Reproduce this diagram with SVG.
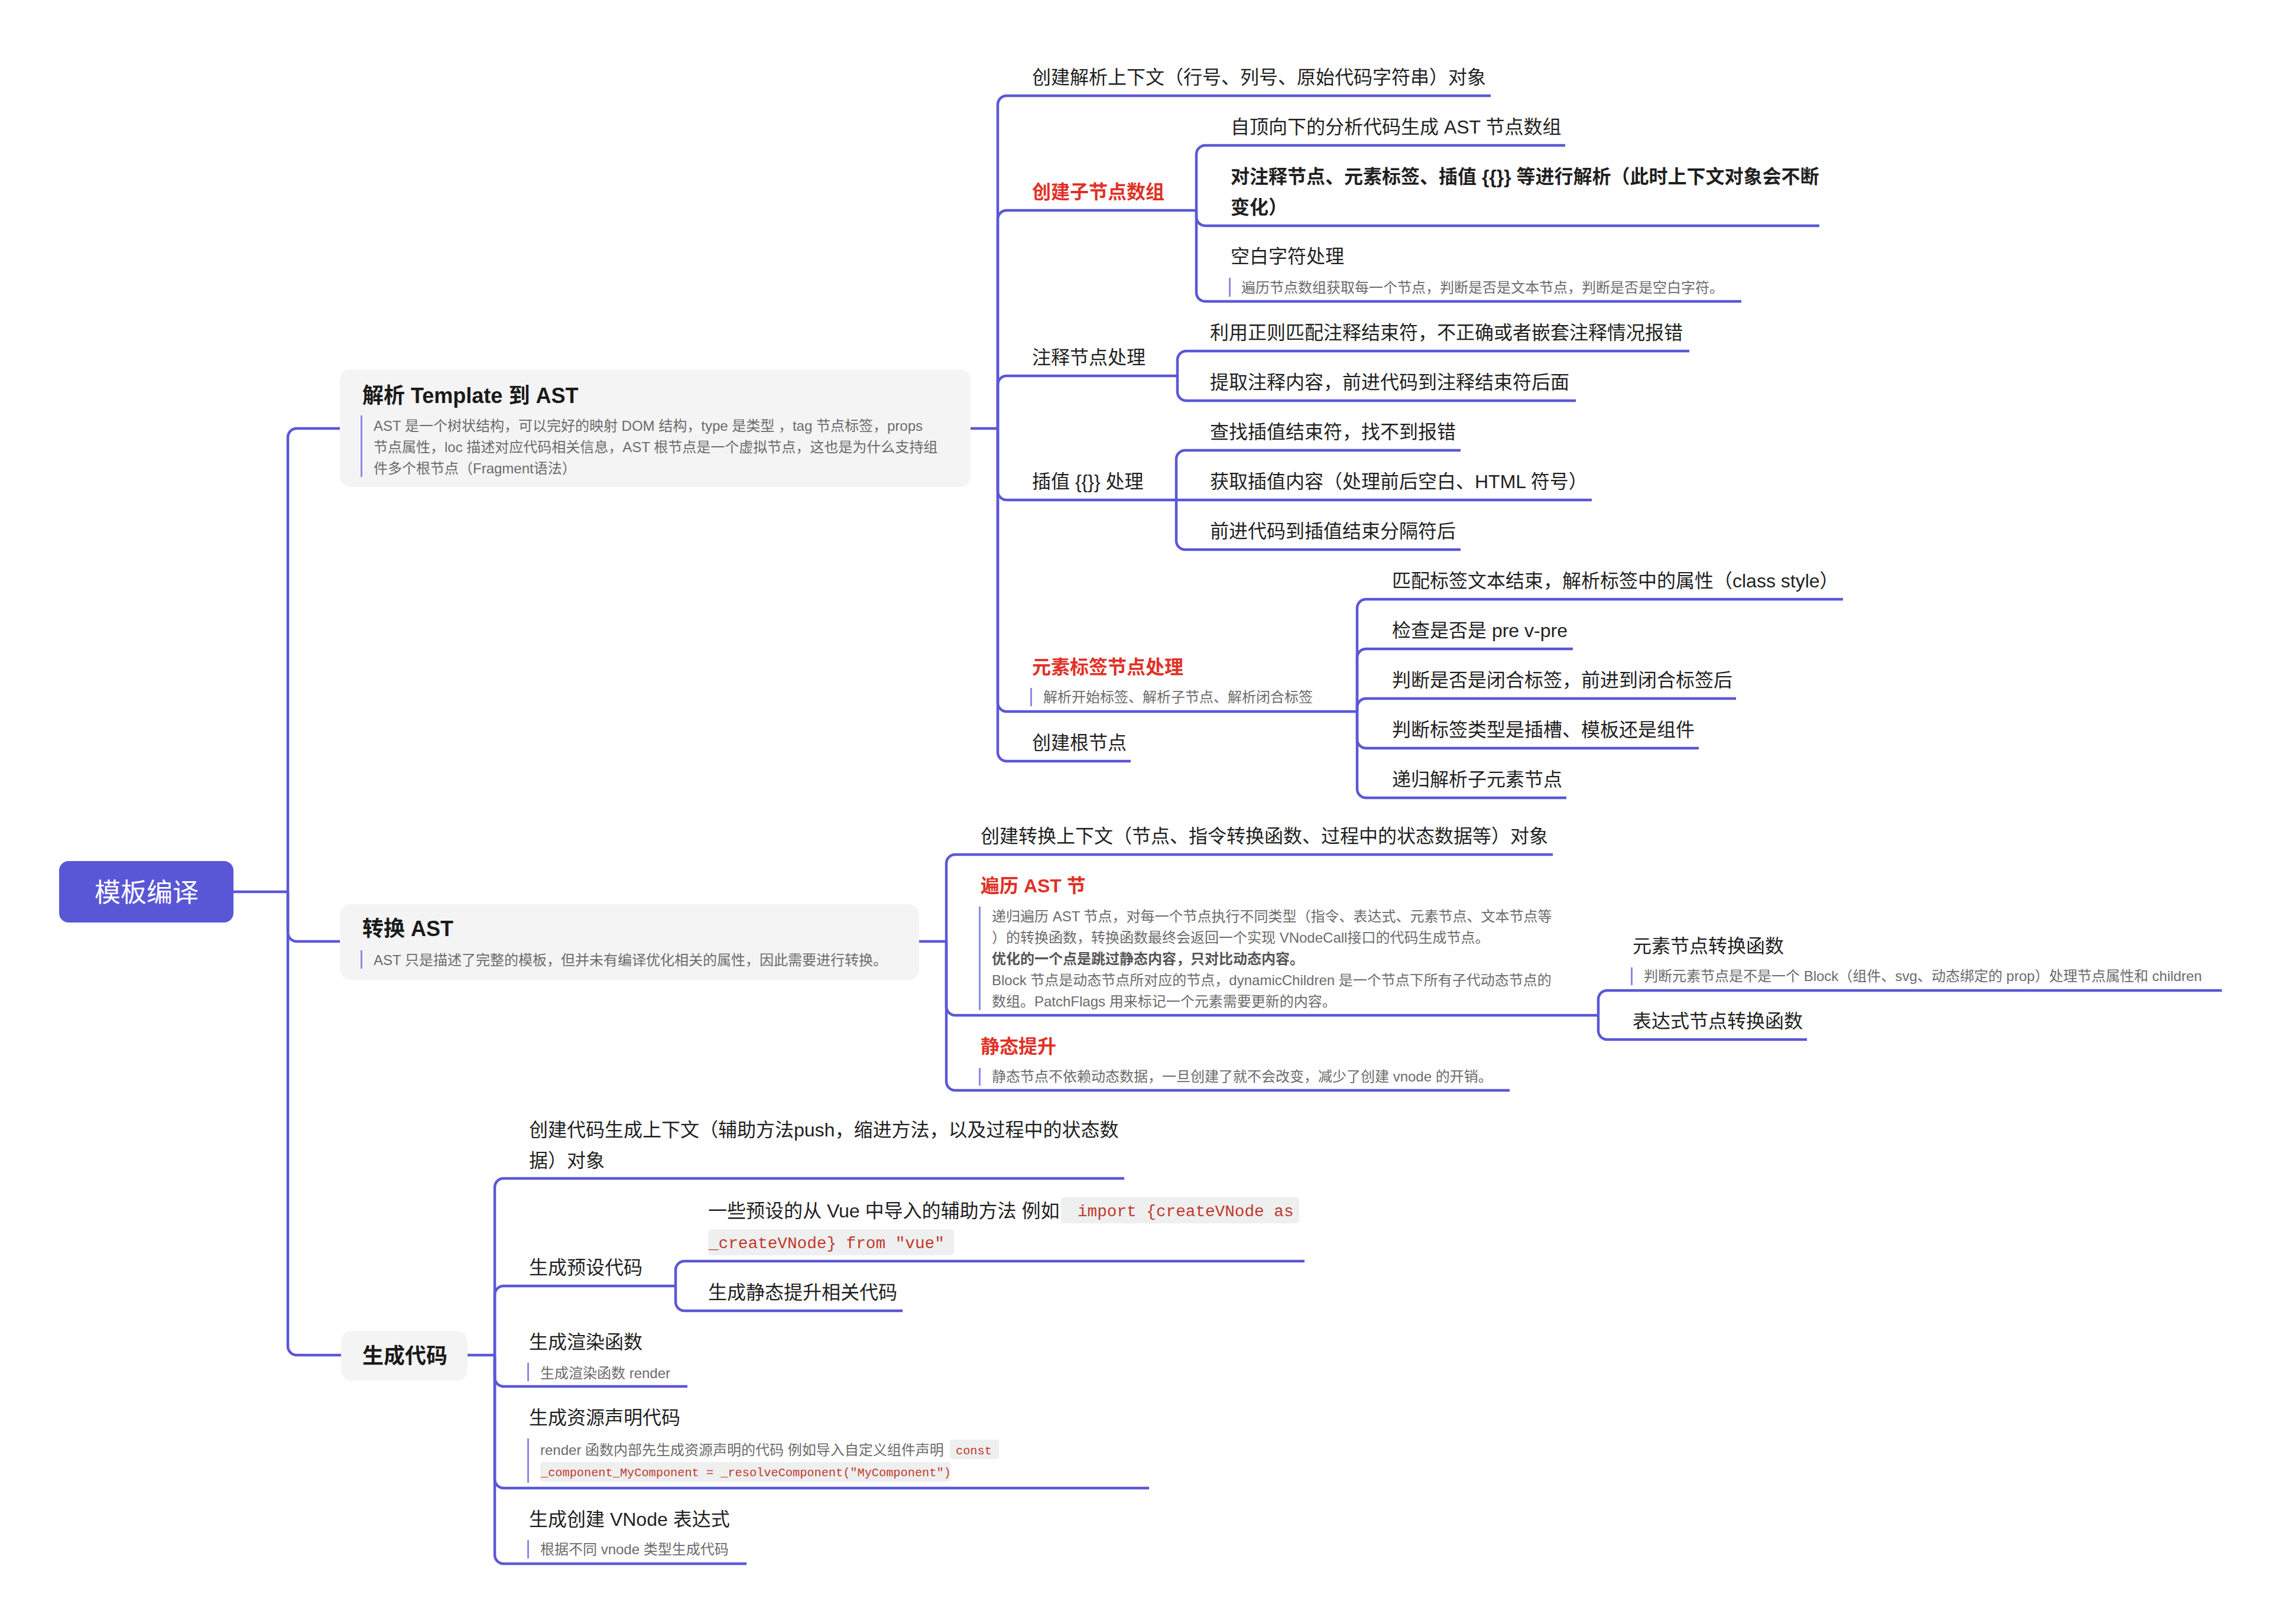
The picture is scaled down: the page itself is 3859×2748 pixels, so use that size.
<svg xmlns="http://www.w3.org/2000/svg" width="3859" height="2748" viewBox="0 0 3859 2748">
<style>
.ln{fill:none;stroke:#5b57d6;stroke-width:4.5}
text{font-family:'Liberation Sans','Noto Sans CJK SC',sans-serif}
.t{font-size:32px;fill:#1f1f1f}
.tb{font-size:32px;fill:#1f1f1f;font-weight:bold}
.red{font-size:32px;fill:#e03127;font-weight:bold}
.h{font-size:36px;fill:#1a1a1a;font-weight:bold}
.d{font-size:24px;fill:#6b6b6b}
.db{font-size:24px;fill:#555;font-weight:bold}
.bar{fill:#8d89e6}
.box{fill:#f4f4f4}
.cbg{fill:#eeefef}
.c1{font-family:'Liberation Mono',monospace;font-size:27.7px;fill:#c0392b}
.c2{font-family:'Liberation Mono',monospace;font-size:20.3px;fill:#c0392b}
</style>
<rect width="3859" height="2748" fill="#ffffff"/>
<g id="connectors">
<path class="ln" d="M395 1509H487"/>
<path class="ln" d="M487 1509V740A15 15 0 0 1 502 725H575"/>
<path class="ln" d="M487 1509V1578A15 15 0 0 0 502 1593H575"/>
<path class="ln" d="M487 1509V2278A15 15 0 0 0 502 2293H577"/>
<path class="ln" d="M1642 725H1688"/>
<path class="ln" d="M1688 725V177A15 15 0 0 1 1703 162H2522"/>
<path class="ln" d="M1688 725V371A15 15 0 0 1 1703 356H2024"/>
<path class="ln" d="M1688 725V651A15 15 0 0 1 1703 636H1992"/>
<path class="ln" d="M1688 725V831A15 15 0 0 0 1703 846H1990"/>
<path class="ln" d="M1688 725V1189A15 15 0 0 0 1703 1204H2296"/>
<path class="ln" d="M1688 725V1273A15 15 0 0 0 1703 1288H1913"/>
<path class="ln" d="M2024 356V261A15 15 0 0 1 2039 246H2648"/>
<path class="ln" d="M2024 356V367A15 15 0 0 0 2039 382H3078"/>
<path class="ln" d="M2024 356V495A15 15 0 0 0 2039 510H2946"/>
<path class="ln" d="M1992 636V609A15 15 0 0 1 2007 594H2858"/>
<path class="ln" d="M1992 636V663A15 15 0 0 0 2007 678H2666"/>
<path class="ln" d="M1990 846V777A15 15 0 0 1 2005 762H2471"/>
<path class="ln" d="M1990 846H2693"/>
<path class="ln" d="M1990 846V915A15 15 0 0 0 2005 930H2471"/>
<path class="ln" d="M2296 1204V1029A15 15 0 0 1 2311 1014H3118"/>
<path class="ln" d="M2296 1204V1113A15 15 0 0 1 2311 1098H2661"/>
<path class="ln" d="M2296 1204V1197A15 15 0 0 1 2311 1182H2937"/>
<path class="ln" d="M2296 1204V1251A15 15 0 0 0 2311 1266H2874"/>
<path class="ln" d="M2296 1204V1335A15 15 0 0 0 2311 1350H2650"/>
<path class="ln" d="M1555 1593H1601"/>
<path class="ln" d="M1601 1593V1461A15 15 0 0 1 1616 1446H2627"/>
<path class="ln" d="M1601 1593V1703A15 15 0 0 0 1616 1718H2704"/>
<path class="ln" d="M1601 1593V1830A15 15 0 0 0 1616 1845H2554"/>
<path class="ln" d="M2704 1718V1691A15 15 0 0 1 2719 1676H3759"/>
<path class="ln" d="M2704 1718V1744A15 15 0 0 0 2719 1759H3057"/>
<path class="ln" d="M791 2293H837"/>
<path class="ln" d="M837 2293V2009A15 15 0 0 1 852 1994H1902"/>
<path class="ln" d="M837 2293V2191A15 15 0 0 1 852 2176H1143"/>
<path class="ln" d="M837 2293V2331A15 15 0 0 0 852 2346H1163"/>
<path class="ln" d="M837 2293V2503A15 15 0 0 0 852 2518H1944"/>
<path class="ln" d="M837 2293V2631A15 15 0 0 0 852 2646H1263"/>
<path class="ln" d="M1143 2176V2149A15 15 0 0 1 1158 2134H2207"/>
<path class="ln" d="M1143 2176V2203A15 15 0 0 0 1158 2218H1527"/>
</g>
<g id="root">
<rect x="100" y="1457" width="295" height="104" rx="16" fill="#5a57d6"/>
<text x="248" y="1526" text-anchor="middle" style="font-size:44px;fill:#ffffff">模板编译</text>
</g>
<g id="parse">
<rect class="box" x="575" y="625" width="1067" height="199" rx="18"/>
<text class="h" x="613" y="682">解析 Template 到 AST</text>
<rect class="bar" x="610" y="703" width="3" height="104"/>
<text class="d" x="632" y="729">AST 是一个树状结构，可以完好的映射 DOM 结构，type 是类型 ，tag 节点标签，props</text>
<text class="d" x="632" y="765">节点属性，loc 描述对应代码相关信息，AST 根节点是一个虚拟节点，这也是为什么支持组</text>
<text class="d" x="632" y="801">件多个根节点（Fragment语法）</text>
</g>
<g id="p-ctx"><text class="t" x="1746" y="142">创建解析上下文（行号、列号、原始代码字符串）对象</text></g>
<g id="p-children"><text class="red" x="1746" y="336">创建子节点数组</text></g>
<g id="p-c1"><text class="t" x="2082" y="226">自顶向下的分析代码生成 AST 节点数组</text></g>
<g id="p-c2">
<text class="tb" x="2082" y="310">对注释节点、元素标签、插值 {{}} 等进行解析（此时上下文对象会不断</text>
<text class="tb" x="2082" y="362">变化）</text>
</g>
<g id="p-c3">
<text class="t" x="2082" y="445">空白字符处理</text>
<rect class="bar" x="2079" y="470" width="3" height="32"/>
<text class="d" x="2100" y="495">遍历节点数组获取每一个节点，判断是否是文本节点，判断是否是空白字符。</text>
</g>
<g id="p-comment"><text class="t" x="1746" y="616">注释节点处理</text></g>
<g id="p-cm1"><text class="t" x="2047" y="574">利用正则匹配注释结束符，不正确或者嵌套注释情况报错</text></g>
<g id="p-cm2"><text class="t" x="2047" y="658">提取注释内容，前进代码到注释结束符后面</text></g>
<g id="p-interp"><text class="t" x="1746" y="826">插值 {{}} 处理</text></g>
<g id="p-i1"><text class="t" x="2047" y="742">查找插值结束符，找不到报错</text></g>
<g id="p-i2"><text class="t" x="2047" y="826">获取插值内容（处理前后空白、HTML 符号）</text></g>
<g id="p-i3"><text class="t" x="2047" y="910">前进代码到插值结束分隔符后</text></g>
<g id="p-elem">
<text class="red" x="1746" y="1140">元素标签节点处理</text>
<rect class="bar" x="1743" y="1164" width="3" height="31"/>
<text class="d" x="1765" y="1188">解析开始标签、解析子节点、解析闭合标签</text>
</g>
<g id="p-e1"><text class="t" x="2355" y="994">匹配标签文本结束，解析标签中的属性（class style）</text></g>
<g id="p-e2"><text class="t" x="2355" y="1078">检查是否是 pre v-pre</text></g>
<g id="p-e3"><text class="t" x="2355" y="1162">判断是否是闭合标签，前进到闭合标签后</text></g>
<g id="p-e4"><text class="t" x="2355" y="1246">判断标签类型是插槽、模板还是组件</text></g>
<g id="p-e5"><text class="t" x="2355" y="1330">递归解析子元素节点</text></g>
<g id="p-root"><text class="t" x="1746" y="1268">创建根节点</text></g>
<g id="transform">
<rect class="box" x="575" y="1530" width="980" height="128" rx="18"/>
<text class="h" x="613" y="1584">转换 AST</text>
<rect class="bar" x="610" y="1608" width="3" height="31"/>
<text class="d" x="632" y="1633">AST 只是描述了完整的模板，但并未有编译优化相关的属性，因此需要进行转换。</text>
</g>
<g id="t-ctx"><text class="t" x="1659" y="1426">创建转换上下文（节点、指令转换函数、过程中的状态数据等）对象</text></g>
<g id="t-traverse">
<text class="red" x="1659" y="1510">遍历 AST 节</text>
<rect class="bar" x="1656" y="1534" width="3" height="175"/>
<text class="d" x="1678" y="1559">递归遍历 AST 节点，对每一个节点执行不同类型（指令、表达式、元素节点、文本节点等</text>
<text class="d" x="1678" y="1595">）的转换函数，转换函数最终会返回一个实现 VNodeCall接口的代码生成节点。</text>
<text class="db" x="1678" y="1631">优化的一个点是跳过静态内容，只对比动态内容。</text>
<text class="d" x="1678" y="1667">Block 节点是动态节点所对应的节点，dynamicChildren 是一个节点下所有子代动态节点的</text>
<text class="d" x="1678" y="1703">数组。PatchFlags 用来标记一个元素需要更新的内容。</text>
</g>
<g id="t-elemfn">
<text class="t" x="2762" y="1612">元素节点转换函数</text>
<rect class="bar" x="2759" y="1637" width="3" height="30"/>
<text class="d" x="2781" y="1660">判断元素节点是不是一个 Block（组件、svg、动态绑定的 prop）处理节点属性和 children</text>
</g>
<g id="t-exprfn"><text class="t" x="2762" y="1739">表达式节点转换函数</text></g>
<g id="t-hoist">
<text class="red" x="1659" y="1782">静态提升</text>
<rect class="bar" x="1656" y="1807" width="3" height="30"/>
<text class="d" x="1678" y="1830">静态节点不依赖动态数据，一旦创建了就不会改变，减少了创建 vnode 的开销。</text>
</g>
<g id="generate">
<rect class="box" x="577" y="2252" width="214" height="84" rx="18"/>
<text class="h" x="613" y="2307">生成代码</text>
</g>
<g id="g-ctx">
<text class="t" x="895" y="1923">创建代码生成上下文（辅助方法push，缩进方法，以及过程中的状态数</text>
<text class="t" x="895" y="1975">据）对象</text>
</g>
<g id="g-preset"><text class="t" x="895" y="2156">生成预设代码</text></g>
<g id="g-p1">
<rect class="cbg" x="1795" y="2026" width="403" height="44" rx="6"/>
<rect class="cbg" x="1198" y="2080" width="416" height="44" rx="6"/>
<text class="t" x="1198" y="2060">一些预设的从 Vue 中导入的辅助方法 例如</text>
<text class="c1" x="1823" y="2058">import {createVNode as</text>
<text class="c1" x="1199" y="2112">_createVNode} from "vue"</text>
</g>
<g id="g-p2"><text class="t" x="1198" y="2198">生成静态提升相关代码</text></g>
<g id="g-render">
<text class="t" x="895" y="2282">生成渲染函数</text>
<rect class="bar" x="892" y="2306" width="3" height="31"/>
<text class="d" x="914" y="2332">生成渲染函数 render</text>
</g>
<g id="g-asset">
<text class="t" x="895" y="2410">生成资源声明代码</text>
<rect class="bar" x="892" y="2434" width="3" height="75"/>
<rect class="cbg" x="1607" y="2436" width="83" height="33" rx="5"/>
<rect class="cbg" x="914" y="2474" width="694" height="33" rx="5"/>
<text class="d" x="914" y="2462">render 函数内部先生成资源声明的代码 例如导入自定义组件声明</text>
<text class="c2" x="1617" y="2461">const</text>
<text class="c2" x="915" y="2498">_component_MyComponent = _resolveComponent("MyComponent")</text>
</g>
<g id="g-vnode">
<text class="t" x="895" y="2582">生成创建 VNode 表达式</text>
<rect class="bar" x="892" y="2606" width="3" height="31"/>
<text class="d" x="914" y="2630">根据不同 vnode 类型生成代码</text>
</g>
</svg>
